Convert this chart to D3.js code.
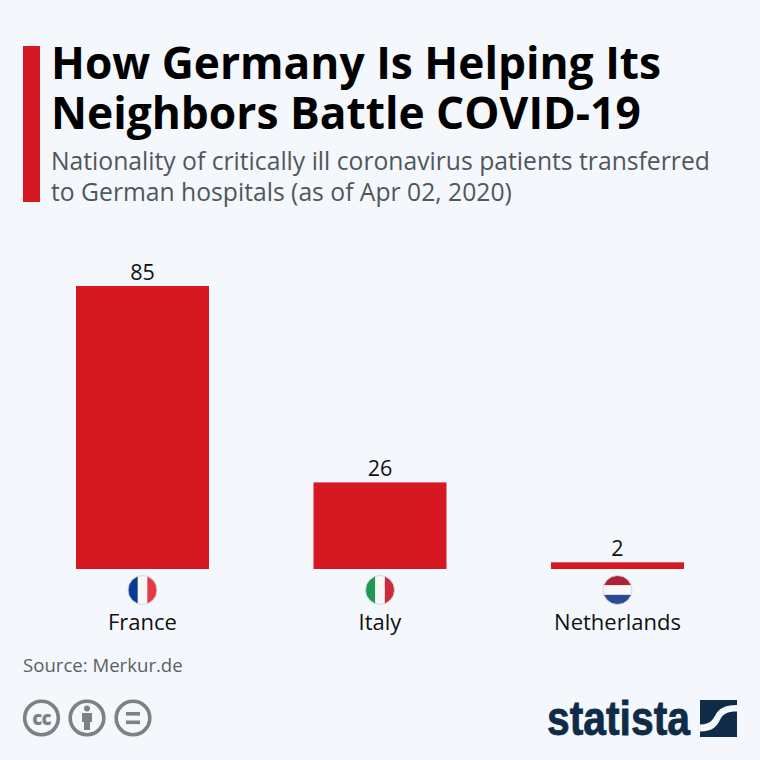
<!DOCTYPE html>
<html>
<head>
<meta charset="utf-8">
<script src="https://cdn.jsdelivr.net/npm/d3@7"></script>
<style>
  html, body { margin: 0; padding: 0; background: #f4f7fb; }
  svg { display: block; }
  text { font-family: "Open Sans", sans-serif; }
</style>
</head>
<body>
<svg id="chart" width="760" height="760"></svg>
<script>
var categories = ["France", "Italy", "Netherlands"];
var values = [85, 26, 2];
var titleLines = ["How Germany Is Helping Its", "Neighbors Battle COVID-19"];
var subtitleLines = ["Nationality of critically ill coronavirus patients transferred",
                     "to German hospitals (as of Apr 02, 2020)"];
var flagColors = [
    { dir: "v", bands: ["#0b3a94", "#f7f7f7", "#e63946"] },
    { dir: "v", bands: ["#1e9a50", "#f7f7f7", "#cf2a3a"] },
    { dir: "h", bands: ["#ad2234", "#f7f7f7", "#2c4a94"] }
];

var RED = "#d61822", NAVY = "#0f2b48", GREY = "#7c8284";

var svg = d3.select("#chart");
var baseline = 569;

var x = d3.scaleBand().domain(categories).range([76, 684]).paddingInner(0.44);
var y = d3.scaleLinear().domain([0, 85]).range([baseline, 286]);

// header
svg.append("rect").attr("x", 23).attr("y", 46).attr("width", 17).attr("height", 156).attr("fill", RED);

svg.selectAll("text.title").data(titleLines).enter().append("text")
    .attr("class", "title")
    .attr("x", 51)
    .attr("y", function(d, i) { return 79 + i * 50; })
    .attr("font-size", 44.3)
    .attr("font-weight", 700)
    .attr("fill", "#000")
    .text(function(d) { return d; });

svg.selectAll("text.subtitle").data(subtitleLines).enter().append("text")
    .attr("class", "subtitle")
    .attr("x", 51)
    .attr("y", function(d, i) { return 170 + i * 31; })
    .attr("font-size", 24.7)
    .attr("fill", "#50575a")
    .text(function(d) { return d; });

// bars
svg.selectAll("rect.bar").data(values).enter().append("rect")
    .attr("class", "bar")
    .attr("x", function(d, i) { return x(categories[i]); })
    .attr("y", function(d) { return y(d); })
    .attr("width", x.bandwidth())
    .attr("height", function(d) { return baseline - y(d); })
    .attr("fill", RED);

svg.selectAll("text.value").data(values).enter().append("text")
    .attr("class", "value")
    .attr("x", function(d, i) { return x(categories[i]) + x.bandwidth() / 2; })
    .attr("y", function(d) { return y(d) - 6; })
    .attr("text-anchor", "middle")
    .attr("font-size", 21.5)
    .attr("fill", "#111")
    .text(function(d) { return d; });

// category labels
svg.selectAll("text.cat").data(categories).enter().append("text")
    .attr("class", "cat")
    .attr("x", function(d) { return x(d) + x.bandwidth() / 2; })
    .attr("y", 630)
    .attr("text-anchor", "middle")
    .attr("font-size", 22)
    .attr("fill", "#111")
    .text(function(d) { return d; });

// round flags
var FLAG_R = 14.5, FLAG_Y = 590;
var defs = svg.append("defs");
categories.forEach(function(cat, i) {
    var cx = x(cat) + x.bandwidth() / 2;
    var flag = flagColors[i];
    defs.append("clipPath").attr("id", "flag" + i)
        .append("circle").attr("cx", cx).attr("cy", FLAG_Y).attr("r", FLAG_R);
    var g = svg.append("g").attr("clip-path", "url(#flag" + i + ")");
    var w = FLAG_R * 2 / 3;
    flag.bands.forEach(function(c, j) {
        g.append("rect")
            .attr("x", flag.dir === "v" ? cx - FLAG_R + j * w : cx - FLAG_R)
            .attr("y", flag.dir === "v" ? FLAG_Y - FLAG_R : FLAG_Y - FLAG_R + j * w)
            .attr("width", flag.dir === "v" ? w + 0.3 : FLAG_R * 2)
            .attr("height", flag.dir === "v" ? FLAG_R * 2 : w + 0.3)
            .attr("fill", c);
    });
    svg.append("circle").attr("cx", cx).attr("cy", FLAG_Y).attr("r", FLAG_R)
        .attr("fill", "none").attr("stroke", "#d5d8dc").attr("stroke-width", 1);
});

// source
svg.append("text").attr("x", 23).attr("y", 672)
    .attr("font-size", 18.6).attr("fill", "#5a6164").text("Source: Merkur.de");

// licence icons
function ring(cx) {
    return svg.append("circle").attr("cx", cx).attr("cy", 718).attr("r", 16.8)
        .attr("fill", "none").attr("stroke", GREY).attr("stroke-width", 3.6);
}
ring(41.5);
ring(87);
ring(133);

svg.append("text").attr("x", 41.5).attr("y", 724.5)
    .attr("text-anchor", "middle").attr("font-size", 18.5).attr("font-weight", 800)
    .attr("letter-spacing", -0.6).attr("fill", GREY).text("cc");

svg.append("circle").attr("cx", 87).attr("cy", 708.5).attr("r", 3).attr("fill", GREY);
svg.append("path").attr("fill", GREY)
    .attr("d", "M82,713h10v9h-2v8h-6v-8h-2z");

svg.append("rect").attr("x", 126).attr("y", 712).attr("width", 14).attr("height", 3.6).attr("fill", GREY);
svg.append("rect").attr("x", 126).attr("y", 720.5).attr("width", 14).attr("height", 3.6).attr("fill", GREY);

// statista logo
svg.append("text").attr("x", 547).attr("y", 735)
    .attr("font-size", 48)
    .attr("font-weight", 700)
    .attr("textLength", 143)
    .attr("lengthAdjust", "spacingAndGlyphs")
    .style("font-family", '"Liberation Sans Narrow", "Liberation Sans", sans-serif')
    .attr("stroke", NAVY).attr("stroke-width", 0.8)
    .attr("fill", NAVY).text("statista");

svg.append("rect").attr("x", 700).attr("y", 700).attr("width", 37).attr("height", 37).attr("fill", NAVY);
svg.append("path").attr("fill", "#f4f7fb")
    .attr("d", "M700,724.5C711,724.5 713,719 716,714C719,709 724,705 737,705V711.5C727,711.5 723,714 720.5,719C717,726 713,731.5 700,731.5Z");
</script>
</body>
</html>
